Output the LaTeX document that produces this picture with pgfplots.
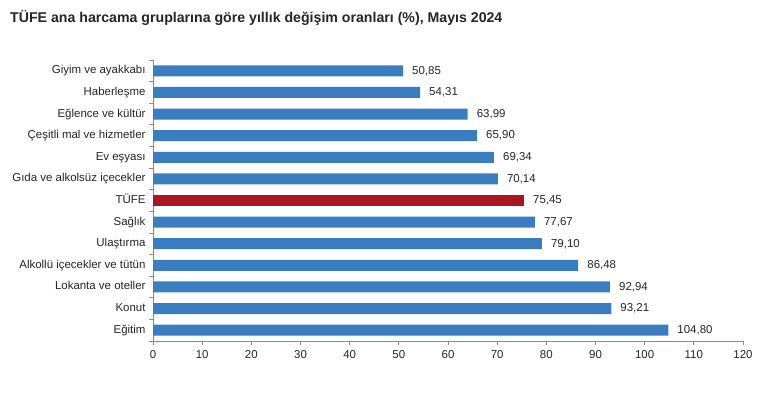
\documentclass[border=0pt]{standalone}
\usepackage{fontspec}
\setmainfont{Liberation Sans}
\usepackage{pgfplots}
\usepackage{pgfplotstable}
\pgfplotsset{compat=1.18}
\definecolor{barblue}{HTML}{3A7DC1}
\definecolor{barred}{HTML}{A8171F}
\definecolor{axgray}{HTML}{8C8C8C}
\definecolor{txt}{HTML}{262626}
\pgfplotstableread{
i v l
0 50.85 50,85
1 54.31 54,31
2 63.99 63,99
3 65.90 65,90
4 69.34 69,34
5 70.14 70,14
7 77.67 77,67
8 79.10 79,10
9 86.48 86,48
10 92.94 92,94
11 93.21 93,21
12 104.80 104,80
}\bluedata
\pgfplotstableread{
i v l
6 75.45 75,45
}\reddata
\begin{document}
\begin{tikzpicture}[x=1bp,y=1bp]
\fill[white] (0,0) rectangle (773,393);
\node[anchor=west,font=\fontsize{14.2}{16}\selectfont\bfseries,text=txt,inner sep=0pt] at (10,375) {TÜFE ana harcama gruplarına göre yıllık değişim oranları (\%), Mayıs 2024};
\begin{axis}[
  at={(153bp,52bp)}, anchor=south west,
  scale only axis, width=590bp, height=281bp,
  xbar, bar width=11bp, bar shift=0pt,
  xmin=0, xmax=120, ymin=-0.5, ymax=12.5, y dir=reverse,
  axis lines*=left,
  axis line style={draw=axgray, line width=0.8bp},
  tick style={draw=axgray, line width=0.8bp},
  major tick length=4bp,
  tick align=outside,
  xtick={0,10,...,120},
  ytick={-0.5,0.5,...,12.5},
  y tick label as interval,
  yticklabels={Giyim ve ayakkabı, Haberleşme, Eğlence ve kültür, Çeşitli mal ve hizmetler, Ev eşyası, Gıda ve alkolsüz içecekler, TÜFE, Sağlık, Ulaştırma, Alkollü içecekler ve tütün, Lokanta ve oteller, Konut, Eğitim},
  /pgf/number format/assume math mode=true,
  ticklabel style={font=\fontsize{11.5}{13}\selectfont, text=txt},
  y tick label style={text height=8.5bp, text depth=2.5bp},
  x tick label style={yshift=-2bp},
  point meta=explicit symbolic,
  nodes near coords,
  nodes near coords style={font=\fontsize{11.5}{13}\selectfont, text=txt, inner sep=0pt, anchor=west, xshift=9bp},
]
\addplot[fill=barblue, draw=none] table[x=v, y=i, meta=l] {\bluedata};
\addplot[fill=barred, draw=none] table[x=v, y=i, meta=l] {\reddata};
\end{axis}
\end{tikzpicture}
\end{document}
